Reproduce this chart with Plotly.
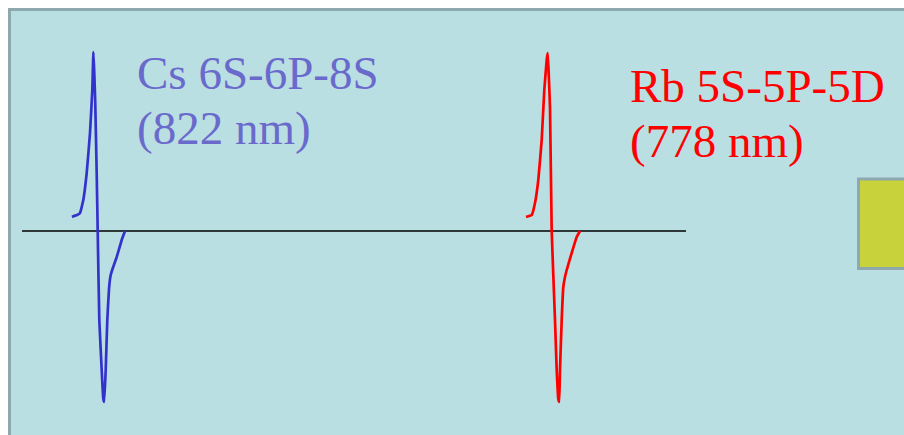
import plotly.graph_objects as go

W, H = 904, 435

# Cs 6S-6P-8S signal (x position, signal amplitude above baseline)
cs_x = [72, 74, 77, 80, 83.3, 86.7, 90, 92.3, 93.4, 94.2, 95.2, 96.7, 97.7, 99.3, 101.7, 103.3, 104.2, 105.7, 107.3, 109.0, 110.5, 112.5, 116.7, 121.7, 125]
cs_y = [14, 15, 16, 18, 31, 58, 98, 141, 179, 160, 130, 58, 0, -89, -139, -168, -171, -139, -89, -58, -45, -38, -26, -9, 0]

# Rb 5S-5P-5D signal
rb_x = [526, 529, 531.7, 535, 538.3, 541.7, 544.3, 546.8, 547.7, 548.6, 550, 551.7, 555, 556.7, 558.3, 559.2, 560, 561.7, 563.3, 565.2, 566.7, 571.7, 576.7, 580]
rb_y = [14, 15, 16, 28, 51, 91, 141, 172, 178, 160, 124, 0, -89, -139, -168, -171, -139, -89, -56, -45, -39, -22, -6, 0]

baseline_x = [22, 686]
baseline_y = [0, 0]

labels = [
    ("Cs 6S-6P-8S", "(822 nm)", "#6A6ACC", 135),
    ("Rb 5S-5P-5D", "(778 nm)", "#FF0000", 628),
]
label_baselines = [(87, 142), (100, 155)]

fig = go.Figure()
fig.add_trace(go.Scatter(x=baseline_x, y=baseline_y, mode="lines",
                         line=dict(color="#000000", width=1.3), hoverinfo="skip"))
fig.add_trace(go.Scatter(x=cs_x, y=cs_y, mode="lines",
                         line=dict(color="#3333CC", width=2.7, shape="spline", smoothing=0.3),
                         hoverinfo="skip"))
fig.add_trace(go.Scatter(x=rb_x, y=rb_y, mode="lines",
                         line=dict(color="#FF0000", width=2.7, shape="spline", smoothing=0.3),
                         hoverinfo="skip"))

def px2paper(x, y):
    return x / W, 1 - y / H

shapes = []
# panel
x0, y0 = px2paper(9.5, 9.5)
x1, y1 = px2paper(915, 445)
shapes.append(dict(type="rect", xref="paper", yref="paper", x0=x0, y0=y1, x1=x1, y1=y0,
                   fillcolor="#BADFE2", line=dict(color="#8DA9AD", width=3), layer="below"))
# yellow box
bx0, by0 = px2paper(858.5, 179)
bx1, by1 = px2paper(915, 268.5)
shapes.append(dict(type="rect", xref="paper", yref="paper", x0=bx0, y0=by1, x1=bx1, y1=by0,
                   fillcolor="#C8D23A", line=dict(color="#8DA9AD", width=3), layer="below"))

annotations = []
for (l1, l2, col, lx), (b1, b2) in zip(labels, label_baselines):
    for txt, b in ((l1, b1), (l2, b2)):
        annotations.append(dict(x=lx, y=231 - (b - 14), xref="x", yref="y", text=txt,
                                showarrow=False, xanchor="left", yanchor="middle",
                                font=dict(family="Liberation Serif", size=47, color=col)))

fig.update_layout(
    width=W, height=H,
    margin=dict(l=0, r=0, t=0, b=0),
    paper_bgcolor="#FFFFFF", plot_bgcolor="rgba(0,0,0,0)",
    showlegend=False,
    xaxis=dict(range=[0, W], visible=False, fixedrange=True),
    yaxis=dict(range=[231 - H, 231], visible=False, fixedrange=True),
    shapes=shapes, annotations=annotations,
)
fig.write_html("out.html", config={"displayModeBar": False})
